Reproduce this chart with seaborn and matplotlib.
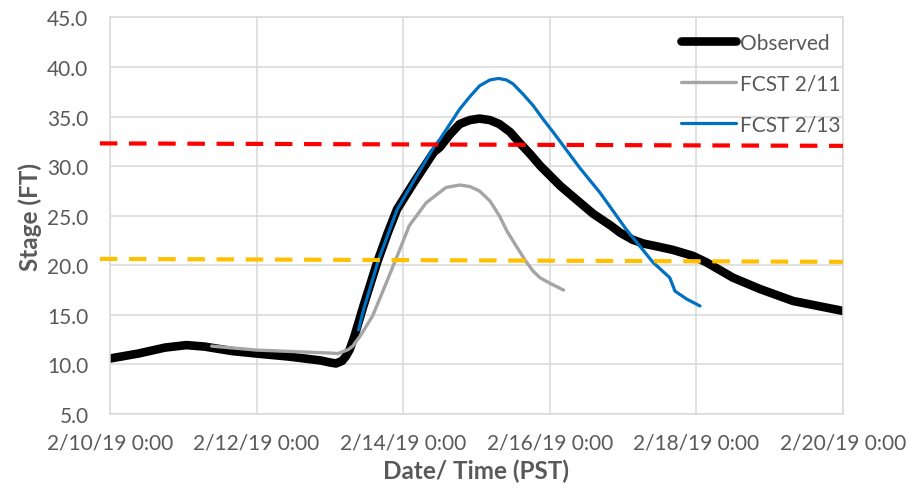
import numpy as np
import pandas as pd
import matplotlib
matplotlib.use("Agg")
import matplotlib.pyplot as plt
import matplotlib.dates as mdates
from matplotlib.ticker import FuncFormatter
import seaborn as sns

# ---------------- data ----------------
start = pd.Timestamp("2019-02-10 00:00")

obs_hours = [0, 9.3, 18, 25, 31, 40, 48, 58.4, 69, 72, 74, 76, 77.3, 78.5, 80, 83, 87.5,
             91, 94, 99.5, 106, 108, 111.3, 114.5, 117.8, 121, 124.4, 127.5, 131, 134,
             137.5, 141, 147.5, 154, 158.2, 164, 167, 171, 174.6, 180, 184.4, 190.9,
             195.3, 204, 212.9, 223.7, 240]
obs_stage = [10.6, 11.1, 11.7, 11.95, 11.8, 11.35, 11.1, 10.8, 10.4, 10.2, 10.1, 10.35,
             10.85, 11.5, 12.8, 15.9, 20.3, 23.3, 25.65, 28.35, 31.4, 31.9, 33.2, 34.25,
             34.65, 34.8, 34.65, 34.25, 33.45, 32.4, 31.25, 30.0, 28.0, 26.3, 25.2, 24.0,
             23.3, 22.6, 22.2, 21.85, 21.55, 20.95, 20.3, 18.75, 17.6, 16.4, 15.4]

f11_hours = [33.3, 48, 60, 72, 74.7, 78, 79.5, 82, 86, 90.5, 94, 98, 103.5, 110, 114.5,
             117.8, 121, 124.4, 127.5, 130, 133, 136.4, 138.6, 140.8, 144, 148.5]
f11_stage = [11.85, 11.45, 11.3, 11.15, 11.1, 11.5, 11.85, 12.9, 14.9, 18.25, 20.9, 24.0,
             26.3, 27.85, 28.1, 27.95, 27.5, 26.5, 25.0, 23.45, 21.95, 20.3, 19.4, 18.75,
             18.2, 17.5]

f13_hours = [81.4, 83, 88, 94, 100, 106, 108, 111.3, 114.5, 117.8, 121, 124.4, 127.2,
             129.8, 132, 135.3, 138.6, 141.8, 145.2, 153.9, 160.4, 169.1, 177.8, 183.3,
             185, 188.8, 193.2]
f13_stage = [13.5, 15.5, 20.6, 25.6, 28.8, 31.9, 32.7, 34.25, 35.75, 37.0, 38.1, 38.7,
             38.85, 38.7, 38.3, 37.25, 36.1, 34.75, 33.4, 29.8, 27.35, 23.6, 20.3, 18.75,
             17.4, 16.6, 15.9]

flood_hours = [-3.3, 240]
major_stage = [32.3, 32.05]
minor_stage = [20.65, 20.35]

series_labels = ["Observed", "FCST 2/11", "FCST 2/13"]
x_tick_dates = ["2019-02-10", "2019-02-12", "2019-02-14", "2019-02-16", "2019-02-18", "2019-02-20"]
y_ticks = [5, 10, 15, 20, 25, 30, 35, 40, 45]


def to_time(hours):
    return start + pd.to_timedelta(hours, unit="h")


obs = pd.DataFrame({"time": to_time(obs_hours), "stage": obs_stage})
f11 = pd.DataFrame({"time": to_time(f11_hours), "stage": f11_stage})
f13 = pd.DataFrame({"time": to_time(f13_hours), "stage": f13_stage})

# ---------------- style ----------------
sns.set_theme(style="white")
plt.rcParams["font.family"] = ["Lato", "DejaVu Sans"]
txt = "#595959"
gridc = "#D9D9D9"

fig = plt.figure(figsize=(9.11, 4.89), dpi=100)
ax = fig.add_axes([0.1207, 0.1513, 0.8046, 0.8109])

sns.lineplot(data=obs, x="time", y="stage", ax=ax, color="black", linewidth=6.2,
             label=series_labels[0], estimator=None, sort=False)
sns.lineplot(data=f11, x="time", y="stage", ax=ax, color="#A5A5A5", linewidth=2.4,
             label=series_labels[1], estimator=None, sort=False)
sns.lineplot(data=f13, x="time", y="stage", ax=ax, color="#0070C0", linewidth=2.3,
             label=series_labels[2], estimator=None, sort=False)
for ln in ax.get_lines():
    ln.set_solid_joinstyle("round")
    ln.set_solid_capstyle("round")

ax.plot(to_time(flood_hours), major_stage, color="#FF0000", linewidth=3, dashes=(4.2, 2.8),
        clip_on=False, zorder=5)
ax.plot(to_time(flood_hours), minor_stage, color="#FFC000", linewidth=3, dashes=(4.2, 2.8),
        clip_on=False, zorder=5)

ax.set_xlim(start, start + pd.Timedelta(days=10))
ax.set_ylim(5, 45)
ax.set_xticks(pd.to_datetime(x_tick_dates))
ax.set_yticks(y_ticks)


def fmt_date(x, pos):
    d = mdates.num2date(x)
    return f"{d.month}/{d.day}/{d:%y} {d.hour}:{d:%M}"


ax.xaxis.set_major_formatter(FuncFormatter(fmt_date))
ax.yaxis.set_major_formatter(FuncFormatter(lambda v, p: f"{v:.1f}"))

ax.grid(True, color=gridc, linewidth=1.1)
ax.set_axisbelow(True)
for s in ax.spines.values():
    s.set_color(gridc)
    s.set_linewidth(1.1)

ax.tick_params(axis="both", labelsize=15, colors=txt, length=0)
ax.tick_params(axis="y", pad=15.5)
ax.tick_params(axis="x", pad=13)

ax.set_xlabel("Date/ Time (PST)", fontsize=17.5, fontweight="bold", color=txt, labelpad=5)
ax.set_ylabel("Stage (FT)", fontsize=17.5, fontweight="bold", color=txt, labelpad=4)

handles, labels = ax.get_legend_handles_labels()
leg = ax.legend(handles[:3], labels[:3], loc="upper left", bbox_to_anchor=(0.779, 0.962),
                frameon=False, fontsize=15, handlelength=2.65, handletextpad=0.2,
                labelspacing=1.0, borderpad=0, borderaxespad=0)
for t in leg.get_texts():
    t.set_color(txt)

fig.savefig("out.png", dpi=100)
